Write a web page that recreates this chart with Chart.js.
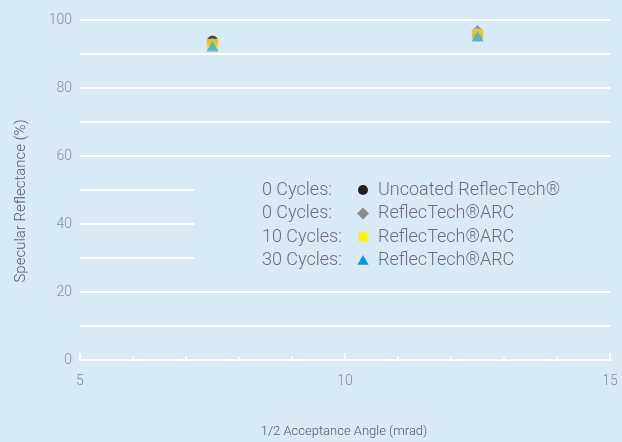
<!DOCTYPE html>
<html>
<head>
<meta charset="utf-8">
<script src="https://cdn.jsdelivr.net/npm/chart.js@4"></script>
<style>
  html, body { margin: 0; padding: 0; background: #d9eaf7; }
  #wrap { width: 622px; height: 442px; }
</style>
</head>
<body>
<div id="wrap"><canvas id="c" width="622" height="442"></canvas></div>
<script>
// ---- data ----
const xValues = [7.5, 12.5];
const uncoated = [93.8, 95.5];
const arc0 = [93.0, 96.8];
const arc10 = [92.8, 95.7];
const arc30 = [91.8, 94.7];

const legendCycles = ['0 Cycles:', '0 Cycles:', '10 Cycles:', '30 Cycles:'];
const legendNames = ['Uncoated ReflecTech®', 'ReflecTech®ARC', 'ReflecTech®ARC', 'ReflecTech®ARC'];
const xTitle = '1/2 Acceptance Angle (mrad)';
const yTitle = 'Specular Reflectance (%)';
const xMinorTicks = [5, 6, 7, 8, 9, 10, 11, 12, 13, 14, 15];

const BG = '#d9eaf7';
const FONT = 'Roboto, "Liberation Sans", sans-serif';

const styles = [
  { pointStyle: 'circle', radius: 5.5, color: 'rgba(45,42,44,0.85)', legendColor: '#231f20', legendRadius: 5 },
  { pointStyle: 'rectRot', radius: 6, color: 'rgba(140,140,140,0.85)', legendColor: '#8c8c8c', legendRadius: 6 },
  { pointStyle: 'rect', radius: 8, color: 'rgba(240,215,40,0.85)', legendColor: '#fff200', legendRadius: 6.5 },
  { pointStyle: 'triangle', radius: 7, color: 'rgba(70,175,215,0.85)', legendColor: '#0b97d8', legendRadius: 6.5 }
];
const seriesData = [uncoated, arc0, arc10, arc30];

const datasets = seriesData.map((vals, i) => ({
  label: legendCycles[i] + ' ' + legendNames[i],
  data: xValues.map((x, j) => ({ x: x, y: vals[j] })),
  order: seriesData.length - 1 - i,
  pointStyle: styles[i].pointStyle,
  pointRadius: styles[i].radius,
  pointHoverRadius: styles[i].radius,
  backgroundColor: styles[i].color,
  borderColor: styles[i].color,
  borderWidth: 0,
  showLine: false
}));

const bgPlugin = {
  id: 'bg',
  beforeDraw(chart) {
    const ctx = chart.ctx;
    ctx.save();
    ctx.fillStyle = BG;
    ctx.fillRect(0, 0, chart.width, chart.height);
    ctx.restore();
  }
};

const overlayPlugin = {
  id: 'overlay',
  beforeDatasetsDraw(chart) {
    const ctx = chart.ctx;
    const xs = chart.scales.x, ys = chart.scales.y;
    ctx.save();
    ctx.fillStyle = BG;
    ctx.fillRect(194, 166, chart.chartArea.right - 194 + 2, 110);
    ctx.strokeStyle = '#ffffff';
    ctx.lineWidth = 2;
    const y0 = ys.getPixelForValue(0);
    xMinorTicks.forEach(v => {
      const px = Math.round(xs.getPixelForValue(v));
      const len = (v % 5 === 0) ? 7 : 3;
      ctx.beginPath();
      ctx.moveTo(px, y0);
      ctx.lineTo(px, y0 - len);
      ctx.stroke();
    });
    ctx.font = '300 18px ' + FONT;
    ctx.textBaseline = 'middle';
    ctx.textAlign = 'left';
    const rowY = [190, 213.5, 237, 260.5];
    legendCycles.forEach((t, i) => {
      ctx.fillStyle = '#6d6e71';
      ctx.fillText(t, 262, rowY[i]);
      ctx.fillText(legendNames[i], 378, rowY[i]);
      ctx.fillStyle = styles[i].legendColor;
      Chart.helpers.drawPoint(ctx, { pointStyle: styles[i].pointStyle, radius: styles[i].legendRadius, borderWidth: 0 }, 363, rowY[i] + (styles[i].pointStyle === 'triangle' ? 1 : 0));
    });
    ctx.restore();
  },
  afterDraw(chart) {
    const ctx = chart.ctx;
    ctx.save();
    ctx.fillStyle = '#58595b';
    ctx.textAlign = 'center';
    ctx.textBaseline = 'middle';
    ctx.font = '300 13px ' + FONT;
    ctx.fillText(xTitle, 344, 432);
    ctx.font = '300 15px ' + FONT;
    ctx.translate(21, 201);
    ctx.rotate(-Math.PI / 2);
    ctx.fillText(yTitle, 0, 0);
    ctx.restore();
  }
};

new Chart(document.getElementById('c'), {
  type: 'scatter',
  data: { datasets: datasets },
  plugins: [bgPlugin, overlayPlugin],
  options: {
    responsive: false,
    devicePixelRatio: 1,
    animation: false,
    events: [],
    layout: { padding: { top: 20, right: 12, left: 0, bottom: 0 } },
    plugins: { legend: { display: false }, tooltip: { enabled: false } },
    scales: {
      x: {
        type: 'linear',
        min: 5, max: 15,
        afterFit(s) { s.height = 82; s.paddingLeft = 0; s.paddingRight = 0; },
        grid: { display: true, drawOnChartArea: false, drawTicks: false, color: '#ffffff' },
        border: { display: true, color: '#ffffff', width: 2 },
        ticks: { stepSize: 5, padding: 13, color: '#8a8c8e', font: { family: FONT, size: 14, weight: '300' } }
      },
      y: {
        min: 0, max: 100,
        afterFit(s) { s.width = 80; s.paddingTop = 0; s.paddingBottom = 0; },
        grid: { color: '#ffffff', lineWidth: 2, drawTicks: false },
        border: { display: false },
        ticks: {
          stepSize: 10, padding: 8, color: '#8a8c8e', font: { family: FONT, size: 14, weight: '300' },
          callback: v => (v % 20 === 0 ? v : '')
        }
      }
    }
  }
});
</script>
</body>
</html>
